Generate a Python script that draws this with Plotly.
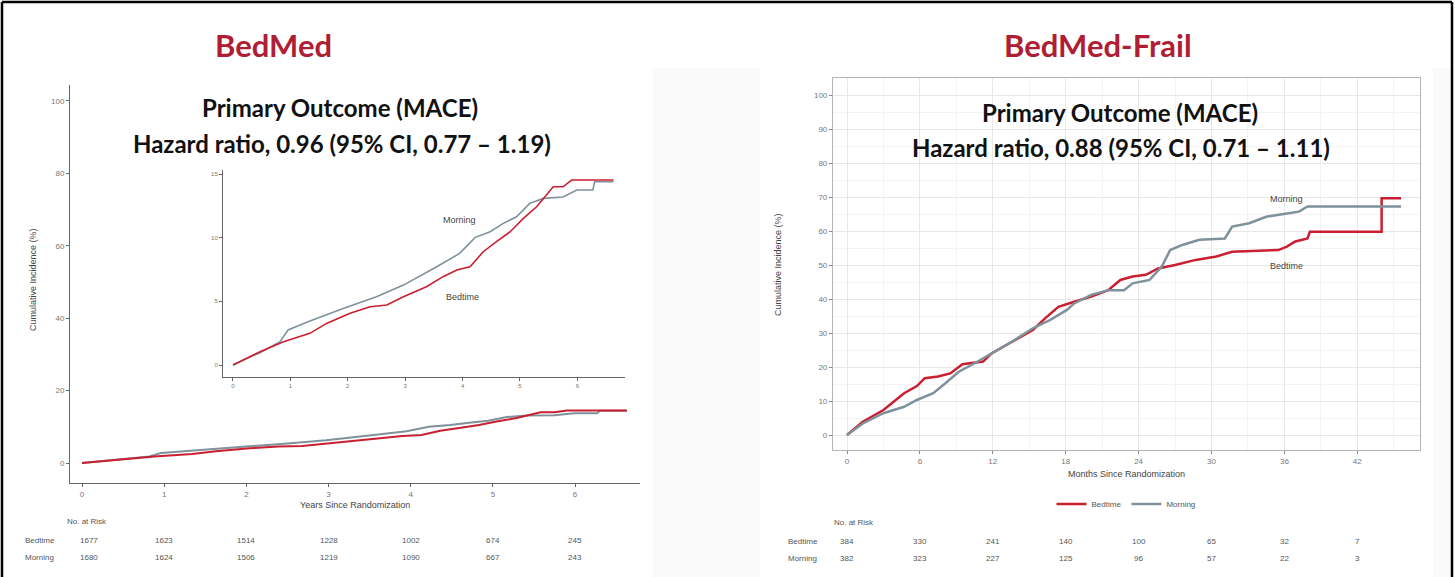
import plotly.graph_objects as go

W, H = 1455, 577

# ---------------- BedMed: cumulative incidence (%) vs years ----------------
bm_bed_t = [0, 0.47, 0.88, 1.34, 1.63, 2.04, 2.39, 2.68, 2.97, 3.37, 3.66, 3.90,
            4.13, 4.36, 4.59, 4.83, 5.06, 5.29, 5.58, 5.75, 5.90, 6.63]
bm_bed_y = [0, 1.05, 1.83, 2.49, 3.27, 4.06, 4.58, 4.71, 5.37, 6.15, 6.94, 7.46,
            7.72, 8.90, 9.69, 10.47, 11.52, 12.43, 14.0, 14.0, 14.53, 14.53]
bm_mor_t = [0, 0.47, 0.82, 0.96, 1.34, 1.92, 2.50, 2.97, 3.55, 3.95, 4.22, 4.48,
            4.71, 4.94, 5.17, 5.41, 5.75, 5.99, 6.27, 6.30, 6.63]
bm_mor_y = [0, 0.97, 1.83, 2.75, 3.45, 4.45, 5.37, 6.28, 7.72, 8.77, 10.03, 10.47,
            11.13, 11.65, 12.70, 13.09, 13.2, 13.75, 13.75, 14.4, 14.4]
bm_risk_t = [0, 1, 2, 3, 4, 5, 6]
bm_risk_bed = [1677, 1623, 1514, 1228, 1002, 674, 245]
bm_risk_mor = [1680, 1624, 1506, 1219, 1090, 667, 243]

# ---------------- BedMed-Frail: cumulative incidence (%) vs months ----------------
fr_bed_t = [0, 1.3, 3.0, 4.7, 5.75, 6.4, 7.5, 8.5, 9.5, 11.2, 11.9, 13.6, 15.3, 16.3,
            17.4, 18.7, 20.1, 21.5, 22.5, 23.5, 24.6, 25.6, 27.0, 28.7, 30.4, 31.7,
            35.5, 36.2, 36.9, 37.9, 38.1, 44.0, 44.0, 45.6]
fr_bed_y = [0, 3.9, 7.35, 12.3, 14.4, 16.7, 17.2, 18.1, 20.8, 21.6, 24.0, 27.5, 30.9,
            34.3, 37.7, 39.2, 40.7, 42.6, 45.6, 46.6, 47.1, 49.0, 50.0, 51.5, 52.5,
            53.9, 54.4, 55.4, 56.9, 57.8, 59.8, 59.8, 69.6, 69.6]
fr_mor_t = [0, 1.3, 3.0, 4.7, 5.75, 7.1, 8.1, 9.2, 10.5, 11.9, 13.6, 15.3, 16.7, 18.1,
            18.7, 20.1, 21.5, 22.8, 23.5, 24.9, 25.9, 26.6, 27.6, 29.0, 31.1, 31.7,
            33.1, 34.5, 35.5, 37.2, 37.9, 45.6]
fr_mor_y = [0, 3.4, 6.4, 8.3, 10.3, 12.3, 15.2, 18.6, 21.1, 24.0, 27.5, 31.4, 33.8,
            36.8, 38.7, 41.2, 42.6, 42.6, 44.6, 45.6, 49.5, 54.4, 55.9, 57.4, 57.8,
            61.3, 62.3, 64.2, 64.7, 65.7, 67.2, 67.2]
fr_risk_t = [0, 6, 12, 18, 24, 30, 36, 42]
fr_risk_bed = [384, 330, 241, 140, 100, 65, 32, 7]
fr_risk_mor = [382, 323, 227, 125, 96, 57, 22, 3]

RED = "#c91f30"
GREY = "#7f929b"
TITLE_RED = "#b01e34"
TXT = "#555555"


def fx(px):
    return px / W


def fy(py):
    return 1 - py / H


fig = go.Figure()

# main BedMed curves
fig.add_trace(go.Scatter(x=bm_mor_t, y=bm_mor_y, mode="lines", line=dict(color=GREY, width=2),
                         xaxis="x", yaxis="y", showlegend=False))
fig.add_trace(go.Scatter(x=bm_bed_t, y=bm_bed_y, mode="lines", line=dict(color=RED, width=2),
                         xaxis="x", yaxis="y", showlegend=False))
# zoomed inset of the same curves
fig.add_trace(go.Scatter(x=bm_mor_t, y=bm_mor_y, mode="lines", line=dict(color=GREY, width=1.6),
                         xaxis="x2", yaxis="y2", showlegend=False))
fig.add_trace(go.Scatter(x=bm_bed_t, y=bm_bed_y, mode="lines", line=dict(color=RED, width=1.6),
                         xaxis="x2", yaxis="y2", showlegend=False))
# BedMed-Frail curves
fig.add_trace(go.Scatter(x=fr_bed_t, y=fr_bed_y, mode="lines", name="Bedtime",
                         line=dict(color=RED, width=2.5), xaxis="x3", yaxis="y3"))
fig.add_trace(go.Scatter(x=fr_mor_t, y=fr_mor_y, mode="lines", name="Morning",
                         line=dict(color=GREY, width=2.5), xaxis="x3", yaxis="y3"))

tickfont = dict(family="Liberation Sans, Arial", size=8, color="#777777")
tinyfont = dict(family="Liberation Sans, Arial", size=6, color="#777777")
classic = dict(showline=True, linecolor="#666666", linewidth=1, ticks="outside", ticklen=3,
               tickcolor="#666666", showgrid=False, zeroline=False)

fig.update_layout(
    width=W, height=H, margin=dict(l=0, r=0, t=0, b=0),
    paper_bgcolor="white", plot_bgcolor="rgba(0,0,0,0)",
    xaxis=dict(domain=[fx(70), fx(640)], range=[-0.146, 6.79], tickvals=bm_risk_t, anchor="y",
               tickfont=tickfont, **classic),
    yaxis=dict(domain=[fy(483), fy(85)], range=[-5.52, 104.4], tickvals=[0, 20, 40, 60, 80, 100],
               anchor="x", tickfont=tickfont, **classic),
    xaxis2=dict(domain=[fx(223), fx(625)], range=[-0.174, 6.83], tickvals=bm_risk_t, anchor="y2",
                tickfont=tinyfont, **classic),
    yaxis2=dict(domain=[fy(377), fy(170)], range=[-0.94, 15.32], tickvals=[0, 5, 10, 15], anchor="x2",
                tickfont=tinyfont, **classic),
    xaxis3=dict(domain=[fx(833), fx(1420)], range=[-1.152, 47.16], tickvals=fr_risk_t, anchor="y3",
                showline=True, mirror=True, linecolor="#b5b5b5", linewidth=1.2, ticks="outside",
                ticklen=3, tickcolor="#888888", tickfont=tickfont, zeroline=False,
                showgrid=True, gridcolor="#e8e8e8", gridwidth=1,
                minor=dict(dtick=3, tick0=0, showgrid=True, gridcolor="#f3f3f3", gridwidth=0.8)),
    yaxis3=dict(domain=[fy(450), fy(78)], range=[-4.41, 105], tickvals=list(range(0, 101, 10)),
                anchor="x3", showline=True, mirror=True, linecolor="#b5b5b5", linewidth=1.2,
                ticks="outside", ticklen=3, tickcolor="#888888", tickfont=tickfont, zeroline=False,
                showgrid=True, gridcolor="#e8e8e8", gridwidth=1,
                minor=dict(dtick=5, tick0=0, showgrid=True, gridcolor="#f3f3f3", gridwidth=0.8)),
    legend=dict(orientation="h", x=fx(1126), xanchor="center", y=fy(504), yanchor="middle",
                font=dict(family="Liberation Sans, Arial", size=8, color=TXT),
                bgcolor="rgba(0,0,0,0)", itemwidth=30, tracegroupgap=0),
)

shapes = [
    # slide gutters
    dict(type="rect", xref="paper", yref="paper", x0=fx(653), x1=fx(760), y0=fy(577), y1=fy(68),
         fillcolor="#fafafa", line=dict(width=0), layer="below"),
    dict(type="rect", xref="paper", yref="paper", x0=fx(1433), x1=fx(1451), y0=fy(577), y1=fy(68),
         fillcolor="#fafafa", line=dict(width=0), layer="below"),
    # slide frame
    dict(type="line", xref="paper", yref="paper", x0=fx(2), x1=fx(2), y0=0, y1=fy(2),
         line=dict(color="black", width=2.5)),
    dict(type="line", xref="paper", yref="paper", x0=fx(2), x1=fx(1452), y0=fy(2), y1=fy(2),
         line=dict(color="black", width=2.5)),
    dict(type="line", xref="paper", yref="paper", x0=fx(1452), x1=fx(1452), y0=0, y1=fy(2),
         line=dict(color="black", width=2.5)),
]
fig.update_layout(shapes=shapes)

title_font = dict(family="Lato, Open Sans, sans-serif", size=31, color=TITLE_RED)
sub_font = dict(family="Lato, Open Sans, sans-serif", size=24, color="#111111")
small = dict(family="Liberation Sans, Arial", size=8, color=TXT)
lab = dict(family="Liberation Sans, Arial", size=9, color="#444444")

ann = [
    dict(text="<b>BedMed</b>", x=fx(273), y=fy(45), font=title_font),
    dict(text="<b>BedMed-Frail</b>", x=fx(1098), y=fy(45), font=title_font),
    dict(text="<b>Primary Outcome (MACE)</b>", x=fx(340), y=fy(108), font=sub_font),
    dict(text="<b>Hazard ratio, 0.96 (95% CI, 0.77 – 1.19)</b>", x=fx(342), y=fy(143), font=sub_font),
    dict(text="<b>Primary Outcome (MACE)</b>", x=fx(1120), y=fy(112), font=sub_font),
    dict(text="<b>Hazard ratio, 0.88 (95% CI, 0.71 – 1.11)</b>", x=fx(1121), y=fy(147), font=sub_font),
    dict(text="Cumulative Incidence (%)", x=fx(33), y=fy(280), textangle=-90, font=lab),
    dict(text="Years Since Randomization", x=fx(355), y=fy(505), font=lab),
    dict(text="Cumulative Incidence (%)", x=fx(778), y=fy(265), textangle=-90, font=lab),
    dict(text="Months Since Randomization", x=fx(1126), y=fy(474), font=lab),
    dict(text="No. at Risk", x=fx(65), y=fy(521), xanchor="left", font=small),
    dict(text="Bedtime", x=fx(23), y=fy(540), xanchor="left", font=small),
    dict(text="Morning", x=fx(23), y=fy(557), xanchor="left", font=small),
    dict(text="No. at Risk", x=fx(832), y=fy(522), xanchor="left", font=small),
    dict(text="Bedtime", x=fx(786), y=fy(541), xanchor="left", font=small),
    dict(text="Morning", x=fx(786), y=fy(558), xanchor="left", font=small),
]
for a in ann:
    a.setdefault("xref", "paper")
    a.setdefault("yref", "paper")
    a.setdefault("xanchor", "center")

# curve labels
ann += [
    dict(text="Morning", x=3.95, y=11.4, xref="x2", yref="y2", font=lab),
    dict(text="Bedtime", x=4.0, y=5.34, xref="x2", yref="y2", font=lab),
    dict(text="Morning", x=36.2, y=69.4, xref="x3", yref="y3", font=lab),
    dict(text="Bedtime", x=36.2, y=49.7, xref="x3", yref="y3", font=lab),
]

# numbers at risk, placed on the time axes
for t, b, m in zip(bm_risk_t, bm_risk_bed, bm_risk_mor):
    xt = t if t > 0 else 0.08
    ann.append(dict(text=str(b), x=xt, y=fy(540), xref="x", yref="paper", font=small))
    ann.append(dict(text=str(m), x=xt, y=fy(557), xref="x", yref="paper", font=small))
for t, b, m in zip(fr_risk_t, fr_risk_bed, fr_risk_mor):
    ann.append(dict(text=str(b), x=t, y=fy(541), xref="x3", yref="paper", font=small))
    ann.append(dict(text=str(m), x=t, y=fy(558), xref="x3", yref="paper", font=small))

for a in ann:
    a["showarrow"] = False
    a["yanchor"] = "middle"

fig.update_layout(annotations=ann)
fig.write_html("out.html")
